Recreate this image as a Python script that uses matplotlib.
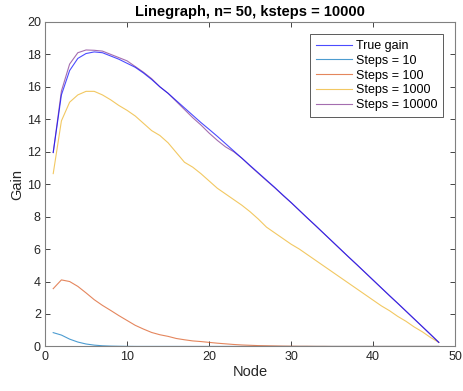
import matplotlib
matplotlib.use("Agg")
import matplotlib.pyplot as plt
import numpy as np

plt.rcParams['font.family'] = ['Liberation Sans', 'DejaVu Sans']

nodes = list(range(1, 49))

true_gain = [11.95, 15.5, 17.0, 17.75, 18.05, 18.15, 18.1, 17.9, 17.7, 17.45,
             17.2, 16.85, 16.45, 16.0, 15.6, 15.15, 14.7, 14.25, 13.8, 13.38,
             12.95, 12.5, 12.05, 11.6, 11.15, 10.7, 10.25, 9.8, 9.33, 8.87,
             8.39, 7.91, 7.44, 6.96, 6.48, 6.0, 5.52, 5.05, 4.57, 4.09,
             3.61, 3.13, 2.66, 2.18, 1.70, 1.22, 0.74, 0.25]

steps10 = [0.85, 0.7, 0.45, 0.27, 0.15, 0.08, 0.04, 0.02, 0.01, 0.005,
           0, 0, 0, 0, 0, 0, 0, 0, 0, 0,
           0, 0, 0, 0, 0, 0, 0, 0, 0, 0,
           0, 0, 0, 0, 0, 0, 0, 0, 0, 0,
           0, 0, 0, 0, 0, 0, 0, 0]

steps100 = [3.56, 4.1, 4.0, 3.7, 3.3, 2.88, 2.53, 2.22, 1.9, 1.6,
            1.3, 1.07, 0.86, 0.72, 0.62, 0.49, 0.41, 0.34, 0.3, 0.25,
            0.2, 0.16, 0.12, 0.09, 0.07, 0.05, 0.04, 0.03, 0.02, 0.015,
            0.01, 0.01, 0.005, 0.005, 0, 0, 0, 0, 0, 0,
            0, 0, 0, 0, 0, 0, 0, 0]

steps1000 = [10.65, 13.9, 15.05, 15.5, 15.72, 15.72, 15.5, 15.2, 14.85, 14.55,
             14.2, 13.75, 13.3, 13.0, 12.55, 11.95, 11.35, 11.05, 10.65, 10.2,
             9.75, 9.4, 9.05, 8.7, 8.3, 7.85, 7.35, 7.0, 6.65, 6.3,
             6.0, 5.65, 5.3, 4.95, 4.6, 4.25, 3.9, 3.55, 3.2, 2.85,
             2.5, 2.2, 1.85, 1.55, 1.2, 0.9, 0.55, 0.25]

steps10000 = [11.95, 15.74, 17.4, 18.1, 18.27, 18.25, 18.2, 18.0, 17.8, 17.6,
              17.25, 16.9, 16.5, 16.0, 15.6, 15.1, 14.6, 14.1, 13.65, 13.15,
              12.7, 12.3, 12.0, 11.6, 11.12, 10.67, 10.22, 9.78, 9.31, 8.86,
              8.38, 7.90, 7.43, 6.95, 6.47, 5.99, 5.51, 5.04, 4.56, 4.08,
              3.60, 3.12, 2.65, 2.17, 1.69, 1.21, 0.73, 0.25]

series = [
    ("True gain", true_gain, "#0000ff", 5),
    ("Steps = 10", steps10, "#0072BD", 2),
    ("Steps = 100", steps100, "#D95319", 2),
    ("Steps = 1000", steps1000, "#EDB120", 2),
    ("Steps = 10000", steps10000, "#7E2F8E", 3),
]

fig = plt.figure(figsize=(4.64, 3.91), dpi=100)
ax = fig.add_axes([0.097, 0.114, 0.884, 0.83])

for label, vals, col, z in series:
    ax.plot(nodes, vals, color=col, lw=0.8, alpha=0.7, label=label, zorder=z)

ax.set_xlim(0, 50)
ax.set_ylim(0, 20)
ax.set_xticks(np.arange(0, 51, 10))
ax.set_yticks(np.arange(0, 21, 2))
ax.tick_params(direction='in', top=True, right=True, length=3.5, width=0.6,
               labelsize=9, colors='#262626', pad=3)
for s in ax.spines.values():
    s.set_color('#808080')
    s.set_linewidth(0.8)

ax.set_xlabel("Node", fontsize=10.5, color='#262626', labelpad=2)
ax.set_ylabel("Gain", fontsize=10.5, color='#262626', labelpad=2)
ax.set_title("Linegraph, n= 50, ksteps = 10000", fontsize=10.5, fontweight='bold', pad=4)

leg = ax.legend(loc='upper right', fontsize=9, frameon=True, fancybox=False,
                edgecolor='#404040', framealpha=1, borderpad=0.45, labelspacing=0.22,
                handlelength=2.9, handletextpad=0.3, borderaxespad=1.0)
leg.get_frame().set_linewidth(0.6)
leg.set_zorder(10)

fig.savefig("out.png", dpi=100)
